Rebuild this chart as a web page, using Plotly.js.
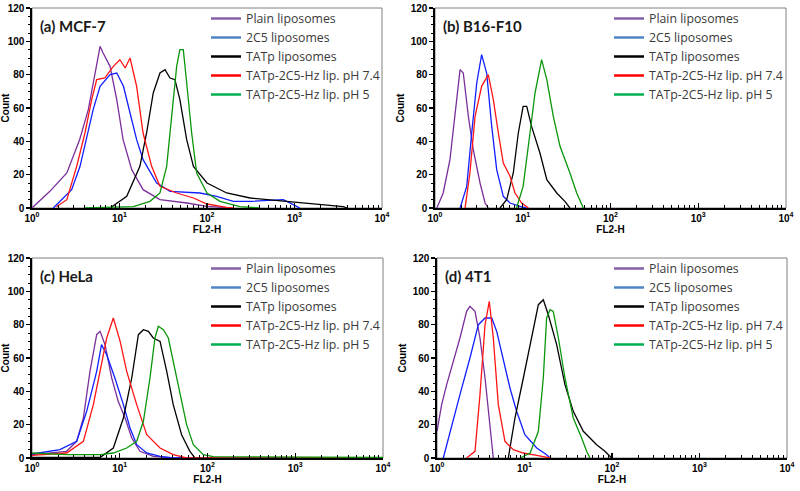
<!DOCTYPE html>
<html>
<head>
<meta charset="utf-8">
<script src="https://cdn.plot.ly/plotly-3.0.1.min.js"></script>
<style>
  html, body { margin: 0; padding: 0; background: #fff; }
  #chart { width: 800px; height: 491px; }
</style>
</head>
<body>
<div id="chart"></div>
<script>
// series names (legend)
var seriesNames = ['Plain liposomes', '2C5 liposomes', 'TATp liposomes',
  'TATp-2C5-Hz lip. pH 7.4', 'TATp-2C5-Hz lip. pH 5'];
var panelLabels = ['(a) MCF-7', '(b) B16-F10', '(c) HeLa', '(d) 4T1'];
var xTickVals = [1, 10, 100, 1000, 10000];
var xTickText = ['10<sup>0</sup>', '10<sup>1</sup>', '10<sup>2</sup>', '10<sup>3</sup>', '10<sup>4</sup>'];

// (a) MCF-7
var mcfPlainX = [1, 1.6, 2.5, 3.5, 4.4, 5.3, 6.0, 6.5, 7.8, 9.3, 11, 13.8, 18.6, 29, 59, 100, 190];
var mcfPlainY = [0, 10, 21, 41, 59, 81, 97, 93, 85, 65, 41, 23, 11, 5, 3, 1, 0];
var mcf2c5X = [1.75, 2.84, 3.54, 4.2, 5.0, 6.0, 7.8, 9.3, 11.1, 13.2, 15.7, 18.6, 26.6, 37.8, 83, 129, 200, 310, 745, 970, 1150];
var mcf2c5Y = [0, 11, 25, 41, 59, 73, 80, 81, 73, 57, 41, 29, 15, 10, 9, 7, 4, 4, 5, 2, 0];
var mcfTatX = [7.8, 12.1, 17.1, 20.4, 24.3, 29, 33.1, 37.8, 43, 49, 58.6, 70, 100, 168, 311, 745, 1790, 3600, 4000];
var mcfTatY = [0, 7, 25, 45, 69, 81, 83, 78, 77, 65, 41, 25, 15, 9, 6, 4, 2.4, 0.8, 0];
var mcfPh74X = [1.9, 2.5, 3.24, 4.03, 4.81, 5.49, 6.8, 8.5, 10.1, 11.6, 13.2, 15.7, 18.6, 23.3, 29, 45, 70, 100, 167, 200];
var mcfPh74Y = [0.8, 5, 25, 45, 65, 77, 78, 85, 89, 84, 90, 73, 45, 25, 13, 9, 6, 2.4, 0.4, 0];
var mcfPh5X = [4, 14.4, 22.3, 29, 34.6, 39.5, 45, 49, 53.6, 58.6, 66.8, 76.2, 100, 141, 238, 400];
var mcfPh5Y = [0, 0.8, 4, 9, 25, 55, 85, 95, 95, 75, 45, 21, 9, 4, 0.8, 0];

// (b) B16-F10
var b16PlainX = [1.05, 1.24, 1.48, 1.69, 1.93, 2.1, 2.4, 2.73, 3.26, 3.72, 4.05];
var b16PlainY = [0, 9, 29, 55, 83, 81, 55, 35, 15, 3, 0];
var b162c5X = [1.93, 2.3, 2.62, 2.99, 3.4, 3.88, 4.43, 5.05, 6.0, 7.16, 9.3, 11];
var b162c5Y = [0, 13, 45, 75, 92, 81, 49, 23, 7, 3, 1, 0];
var b16TatX = [5.5, 6.56, 7.8, 8.9, 10.1, 11.1, 12.6, 15.7, 18.8, 24.4, 30.2, 34.5];
var b16TatY = [0, 5, 21, 45, 61, 61, 49, 33, 17, 9, 4, 0];
var b16Ph74X = [2.2, 2.5, 2.86, 3.4, 4.05, 4.62, 5.27, 6.0, 7.16, 8.16, 9.73, 11.6];
var b16Ph74Y = [0, 21, 55, 73, 80, 65, 45, 27, 19, 9, 3, 0];
var b16Ph5X = [8.5, 10.1, 12.1, 13.8, 16.4, 18.8, 22.3, 26.6, 34.5, 41.2, 49];
var b16Ph5Y = [0, 13, 45, 69, 89, 77, 55, 37, 21, 9, 0];

// (c) HeLa
var helaPlainX = [1, 2.48, 3.23, 3.85, 4.58, 5.46, 5.96, 6.8, 8.1, 9.6, 11.5, 13.7, 17, 24.1, 40.7, 10000];
var helaPlainY = [2, 4, 10, 24, 52, 74, 76, 68, 48, 34, 24, 12, 4, 1, 0, 0];
var hela2c5X = [1, 2.08, 3.23, 4.2, 5.46, 6.2, 7.1, 8.8, 11, 13.1, 15.6, 20.3, 28.8, 40.7, 10000];
var hela2c5Y = [2.4, 5, 10, 28, 52, 68, 62, 48, 32, 18, 8, 3, 1, 0, 0];
var helaTatX = [1, 6, 8.45, 11, 13.7, 16.3, 18.6, 21.2, 24.1, 28.8, 34.3, 40.7, 50.7, 63, 72, 10000];
var helaTatY = [0.4, 0.4, 6, 24, 48, 74, 77, 76, 72, 70, 52, 32, 14, 4, 0, 0];
var helaPh74X = [1, 2.48, 3.85, 5.0, 5.96, 7.1, 8.45, 10.1, 12, 15.6, 20.3, 28.8, 40.7, 57.8, 10000];
var helaPh74Y = [1.6, 3, 10, 32, 52, 72, 84, 70, 52, 32, 14, 6, 2, 0, 0];
var helaPh5X = [1, 2.5, 6, 8.45, 12, 15.6, 18.6, 22.1, 25.2, 27.5, 31.4, 35.8, 40.7, 48.5, 57.8, 68.9, 89.5, 116, 10000];
var helaPh5Y = [3, 2, 2, 3, 6, 10, 22, 48, 72, 79, 77, 72, 58, 38, 20, 8, 2, 0.8, 0.4];

// (d) 4T1
var t41PlainX = [1, 1.13, 1.29, 1.54, 1.83, 2.18, 2.38, 2.72, 3.1, 3.54, 3.86, 4.22, 4.4];
var t41PlainY = [16, 32, 44, 58, 72, 88, 91, 88, 72, 48, 28, 8, 0];
var t412c5X = [1.18, 1.41, 1.83, 2.38, 2.97, 3.54, 4.22, 4.81, 5.73, 6.82, 8.13, 10.1, 13.8, 17.9, 19.6];
var t412c5Y = [0, 16, 38, 60, 80, 84, 84, 76, 58, 42, 28, 14, 6, 2, 0];
var t41TatX = [6.53, 7.78, 9.7, 12.1, 14.4, 16.4, 18.7, 23.3, 29, 36.1, 47, 66.8, 83, 99];
var t41TatY = [0, 24, 48, 72, 92, 95, 86, 68, 44, 28, 16, 8, 4, 0];
var t41Ph74X = [2.18, 2.72, 3.1, 3.54, 3.96, 4.4, 5.02, 5.98, 7.45, 9.7, 13.8, 19.6];
var t41Ph74Y = [0, 4, 38, 80, 94, 72, 32, 10, 5, 3, 1.6, 0];
var t41Ph5X = [8.9, 11.6, 14.4, 16.4, 17.9, 19.6, 21.3, 24.4, 29, 36.1, 45, 51.3, 56];
var t41Ph5Y = [0, 3, 16, 48, 84, 89, 88, 72, 48, 24, 12, 4, 0];

var panels = [
  [[mcfPlainX, mcfPlainY], [mcf2c5X, mcf2c5Y], [mcfTatX, mcfTatY], [mcfPh74X, mcfPh74Y], [mcfPh5X, mcfPh5Y]],
  [[b16PlainX, b16PlainY], [b162c5X, b162c5Y], [b16TatX, b16TatY], [b16Ph74X, b16Ph74Y], [b16Ph5X, b16Ph5Y]],
  [[helaPlainX, helaPlainY], [hela2c5X, hela2c5Y], [helaTatX, helaTatY], [helaPh74X, helaPh74Y], [helaPh5X, helaPh5Y]],
  [[t41PlainX, t41PlainY], [t412c5X, t412c5Y], [t41TatX, t41TatY], [t41Ph74X, t41Ph74Y], [t41Ph5X, t41Ph5Y]]
];

var lineColors = ['#7b2f9b', '#1020ff', '#000000', '#ff1414', '#0a960a'];
var legendColors = ['#8560a8', '#4f86c6', '#000000', '#ff0000', '#00b050'];

// pixel geometry of each plot area
var xDomains = [[32 / 800, 382 / 800], [435 / 800, 786 / 800], [32 / 800, 383 / 800], [437 / 800, 787 / 800]];
var yDomains = [[1 - 208 / 491, 1 - 8 / 491], [1 - 208 / 491, 1 - 8 / 491], [1 - 458 / 491, 1 - 258 / 491], [1 - 458 / 491, 1 - 258 / 491]];

var traces = [];
var layout = {
  width: 800, height: 491,
  margin: {l: 0, r: 0, t: 0, b: 0},
  paper_bgcolor: '#fff', plot_bgcolor: '#fff',
  showlegend: true,
  annotations: [], shapes: []
};

panels.forEach(function (panel, p) {
  var sfx = p === 0 ? '' : String(p + 1);
  var legName = p === 0 ? 'legend' : 'legend' + (p + 1);
  panel.forEach(function (s, i) {
    traces.push({
      x: s[0], y: s[1], type: 'scatter', mode: 'lines',
      xaxis: 'x' + sfx, yaxis: 'y' + sfx,
      line: {color: lineColors[i], width: 1.3},
      showlegend: false, hoverinfo: 'skip'
    });
  });
  // legend entries (legend swatches use lighter colours than the curves)
  seriesNames.forEach(function (name, i) {
    traces.push({
      x: [null], y: [null], type: 'scatter', mode: 'lines',
      xaxis: 'x' + sfx, yaxis: 'y' + sfx,
      name: name, legend: legName,
      line: {color: legendColors[i], width: 2.5}
    });
  });

  layout['xaxis' + sfx] = {
    domain: xDomains[p], anchor: 'y' + sfx, type: 'log', range: [0, 4],
    tickvals: xTickVals, ticktext: xTickText,
    ticks: 'inside', ticklen: 5, tickwidth: 1.2, tickcolor: '#000',
    minor: {ticks: 'inside', ticklen: 3, tickwidth: 1, tickcolor: '#000', dtick: 'D1'},
    showline: true, linecolor: '#000', linewidth: 1.6,
    showgrid: false, zeroline: false,
    tickfont: {family: 'Liberation Sans, Arial', size: 10, color: '#000', weight: 'bold'},
    title: {text: 'FL2-H', standoff: 2,
      font: {family: 'Liberation Sans, Arial', size: 10, color: '#000', weight: 'bold'}}
  };
  layout['yaxis' + sfx] = {
    domain: yDomains[p], anchor: 'x' + sfx, range: [0, 120],
    tickvals: [0, 20, 40, 60, 80, 100, 120],
    ticks: 'outside', ticklen: 4, tickwidth: 1.2, tickcolor: '#000',
    minor: {ticks: 'outside', ticklen: 2, tickwidth: 1, tickcolor: '#000', dtick: 5},
    showline: true, linecolor: '#000', linewidth: 1.6,
    showgrid: false, zeroline: false,
    tickfont: {family: 'Liberation Sans, Arial', size: 10, color: '#000', weight: 'bold'},
    title: {text: 'Count', standoff: 4,
      font: {family: 'Liberation Sans, Arial', size: 10, color: '#000', weight: 'bold'}}
  };

  layout.shapes.push({
    type: 'rect', xref: 'x' + sfx + ' domain', yref: 'y' + sfx + ' domain',
    x0: 0, x1: 1, y0: 0, y1: 1, line: {color: '#808080', width: 1}, layer: 'below'
  });

  var legX = [206 / 800, 609 / 800, 206 / 800, 609 / 800][p];
  var legY = [1 - 4 / 491, 1 - 4 / 491, 1 - 254 / 491, 1 - 254 / 491][p];
  layout[legName] = {
    x: legX, y: legY, xanchor: 'left', yanchor: 'top',
    bgcolor: 'rgba(0,0,0,0)', borderwidth: 0,
    font: {family: 'Open Sans, Lato', size: 12.3, color: '#3a3a3a'},
    tracegroupgap: 0
  };

  layout.annotations.push({
    text: panelLabels[p], showarrow: false,
    xref: 'x' + sfx + ' domain', yref: 'y' + sfx + ' domain',
    x: 0.018, y: 0.91, xanchor: 'left', yanchor: 'middle',
    font: {family: 'Lato, Open Sans', size: 15, color: '#1a1a1a', weight: 'bold'}
  });
});

Plotly.newPlot('chart', traces, layout, {staticPlot: true});
</script>
</body>
</html>
